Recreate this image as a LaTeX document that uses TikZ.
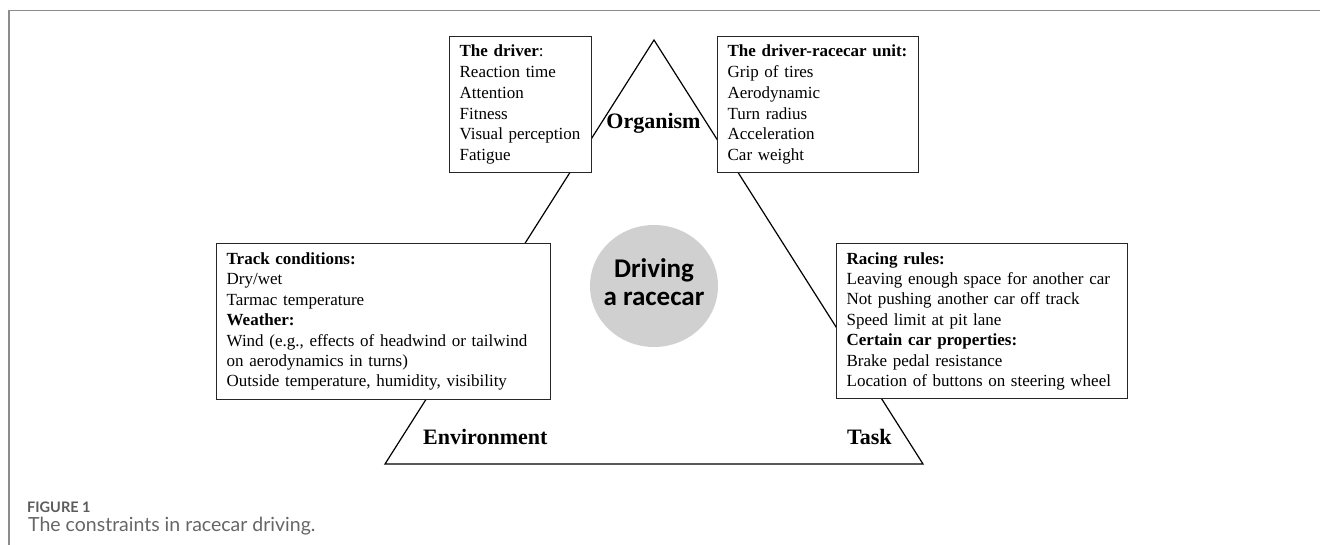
\documentclass[tikz,border=0pt]{standalone}
\usepackage{fontspec}
\setmainfont{Liberation Serif}
\newfontfamily\hubfont{Carlito}
\newfontfamily\capfont{Lato}
\usetikzlibrary{shapes.geometric}
\definecolor{hubgray}{HTML}{D0D0D0}
\definecolor{captiongray}{HTML}{666666}
\definecolor{framegray}{HTML}{8C8C8C}
\begin{document}
\begin{tikzpicture}[x=1pt,y=-1pt,
  side/.style={line width=1.2pt, line join=miter},
  factorbox/.style={draw=black!85, line width=1.3pt, fill=white,
    anchor=north west, inner xsep=10pt, inner ysep=0pt, align=left},
  uppertext/.style={font={\fontsize{17}{20.8}\selectfont}},
  lowertext/.style={font={\fontsize{17}{20.4}\selectfont}},
  corner/.style={font={\bfseries\fontsize{22}{26}\selectfont}, inner sep=0pt},
  hub/.style={ellipse, fill=hubgray, minimum width=128pt, minimum height=122pt, inner sep=0pt},
  hubtext/.style={font={\hubfont\bfseries\fontsize{27}{27.3}\selectfont}, align=center, inner sep=0pt},
]
\useasboundingbox (0,0) rectangle (1320,545);

% page frame
\draw[framegray, line width=1.5pt] (9,545) -- (9,10.7) -- (1320,10.7);

% the constraint triangle
\coordinate (apex) at (654,40);
\coordinate (bl) at (385,464);
\coordinate (br) at (923,464);
\draw[side] (apex) -- (bl) -- (br) -- cycle;

% corner labels
\node[corner, anchor=base] (organism) at (653.5,129) {Organism};
\node[corner, anchor=base west] (environment) at (423,444) {Environment};
\node[corner, anchor=base west] (task) at (847,444) {Task};

% factor boxes
\node[factorbox, uppertext, text width=122pt, minimum height=136pt] (driver) at (449,36)
  {\textbf{The driver}:\\Reaction time\\Attention\\Fitness\\Visual perception\\Fatigue};
\node[factorbox, uppertext, text width=181pt, minimum height=136pt] (unit) at (717,36)
  {\textbf{The driver-racecar unit:}\\Grip of tires\\Aerodynamic\\Turn radius\\Acceleration\\Car weight};
\node[factorbox, lowertext, text width=314pt, minimum height=156pt] (track) at (216,243)
  {\textbf{Track conditions:}\\Dry/wet\\Tarmac temperature\\\textbf{Weather:}\\Wind (e.g., effects of headwind or tailwind\\on aerodynamics in turns)\\Outside temperature, humidity, visibility};
\node[factorbox, lowertext, text width=271pt, minimum height=155pt] (rules) at (836,243)
  {\textbf{Racing rules:}\\Leaving enough space for another car\\Not pushing another car off track\\Speed limit at pit lane\\\textbf{Certain car properties:}\\Brake pedal resistance\\Location of buttons on steering wheel};

% central activity
\node[hub] (hubdisc) at (654,286) {};
\node[hubtext] (hublabel) at (654,282) {Driving\\a racecar};

% caption
\node[anchor=base west, inner sep=0pt, text=captiongray!90!black,
  font={\capfont\bfseries\fontsize{14.5}{17}\selectfont}] (figlabel) at (27,512) {FIGURE 1};
\node[anchor=base west, inner sep=0pt, text=captiongray,
  font={\capfont\fontsize{19.5}{23}\selectfont}] (figcaption) at (28,531) {The constraints in racecar driving.};
\end{tikzpicture}
\end{document}
